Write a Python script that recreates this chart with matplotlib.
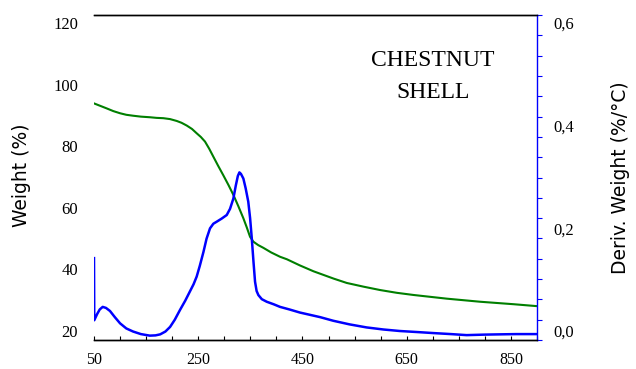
import matplotlib
matplotlib.use("Agg")
import matplotlib.pyplot as plt
from matplotlib.ticker import MultipleLocator, LinearLocator, FixedLocator, FixedFormatter

# ---- data ----
tg_temp = [50, 62, 74, 87, 100, 112, 125, 140, 157.5, 170, 183, 196, 208.7, 218, 228, 238,
           247, 255, 263, 271, 279, 288, 298, 308, 317.4, 327, 336.6, 343, 349.4, 355.8,
           365, 375, 390, 407, 420, 445, 471, 484, 510, 535, 567, 599, 631, 663, 695, 727,
           759, 791, 823, 855, 898]
tg_weight = [93.9, 93.1, 92.3, 91.4, 90.7, 90.2, 89.9, 89.6, 89.4, 89.2, 89.1, 88.8, 88.2,
             87.6, 86.7, 85.6, 84.2, 83.0, 81.5, 79.2, 76.6, 73.7, 70.6, 67.4, 64.2, 60.5,
             56.6, 53.7, 50.6, 49.0, 47.9, 47.0, 45.5, 44.1, 43.3, 41.3, 39.4, 38.6, 37.0,
             35.6, 34.4, 33.3, 32.4, 31.7, 31.1, 30.5, 30.0, 29.5, 29.1, 28.7, 28.1]

dtg_temp = [50, 50.5, 56, 61, 66.7, 73, 80.7, 90, 100, 112, 125, 140, 157, 168, 177, 187,
            196, 205, 215, 225, 234, 241, 247, 253, 260, 266, 272.6, 279, 285.5, 295, 304.7,
            311, 317.4, 322, 326, 329, 332, 336.6, 341, 346, 349.5, 352.7, 356, 359, 362,
            365.4, 372, 381.5, 395, 407, 425, 445, 484, 509, 540, 573, 605, 637, 670, 701,
            735, 765, 800, 829, 860, 898]
dtg_deriv = [0.142, 0.021, 0.033, 0.042, 0.047, 0.045, 0.039, 0.027, 0.015, 0.005, -0.001,
             -0.006, -0.009, -0.0085, -0.0065, -0.001, 0.008, 0.022, 0.041, 0.059, 0.077,
             0.091, 0.106, 0.127, 0.154, 0.180, 0.200, 0.209, 0.213, 0.219, 0.226, 0.238,
             0.258, 0.283, 0.302, 0.309, 0.306, 0.297, 0.278, 0.252, 0.220, 0.181, 0.135,
             0.096, 0.078, 0.070, 0.062, 0.057, 0.052, 0.047, 0.042, 0.036, 0.027, 0.020,
             0.013, 0.007, 0.003, 0.000, -0.002, -0.004, -0.006, -0.008, -0.007, -0.0065,
             -0.006, -0.006]

x_ticks = [50, 250, 450, 650, 850]
left_ticks = [20, 40, 60, 80, 100, 120]
right_ticks = [0.0, 0.2, 0.4, 0.6]
right_tick_labels = ["0,0", "0,2", "0,4", "0,6"]
sample_name = ["CHESTNUT", "SHELL"]

SERIF = "Liberation Serif"
SANS = "DejaVu Sans"

fig = plt.figure(figsize=(6.36, 3.69), dpi=100)
ax = fig.add_axes([94 / 636, 29 / 369, 443 / 636, 325 / 369])
ax2 = ax.twinx()

ax.plot(tg_temp, tg_weight, color="#007f00", lw=1.5, zorder=3)
ax2.plot(dtg_temp, dtg_deriv, color="#0000ff", lw=1.8, zorder=3)

ax.set_xlim(50, 900)
ax.set_ylim(17.08, 122.6)
ax2.set_ylim(-0.0175, 0.6156)

# spines
ax.spines["left"].set_visible(False)
ax2.spines["left"].set_visible(False)
ax.spines["right"].set_visible(False)
ax2.spines["right"].set_color("#0000ff")
ax2.spines["right"].set_linewidth(1.0)
for a in (ax, ax2):
    a.spines["top"].set_color("black")
    a.spines["bottom"].set_color("black")
    a.spines["top"].set_linewidth(1.0)
    a.spines["bottom"].set_linewidth(1.0)

# x ticks
ax.xaxis.set_major_locator(FixedLocator(x_ticks))
ax.xaxis.set_minor_locator(MultipleLocator(50))
ax.tick_params(axis="x", which="both", direction="in", length=3, width=0.8,
               color="black", top=False, pad=8.5)
for lab in ax.get_xticklabels():
    lab.set_fontfamily(SERIF)
    lab.set_fontsize(11.5)

# left y ticks
ax.set_yticks(left_ticks)
ax.tick_params(axis="y", which="both", length=0, pad=11.5, left=True, right=False)
for lab in ax.get_yticklabels():
    lab.set_fontfamily(SERIF)
    lab.set_fontsize(12)

# right y ticks
ax2.yaxis.set_major_locator(FixedLocator(right_ticks))
ax2.yaxis.set_major_formatter(FixedFormatter(right_tick_labels))
ax2.yaxis.set_minor_locator(LinearLocator(17))
ax2.tick_params(axis="y", which="major", length=0, pad=12)
ax2.tick_params(axis="y", which="minor", length=3.5, width=0.8, color="#0000ff",
                direction="out")
for lab in ax2.get_yticklabels():
    lab.set_fontfamily(SERIF)
    lab.set_fontsize(12)

# axis labels
fig.text(22 / 636, 1 - 175 / 369, "Weight (%)", rotation=90, ha="center", va="center",
         fontsize=13.5, family=SANS)
fig.text(621 / 636, 1 - 178 / 369, "Deriv. Weight (%/°C)", rotation=90, ha="center",
         va="center", fontsize=13.5, family=SANS)

# sample name
ax.text(0.765, 0.860, sample_name[0], transform=ax.transAxes, ha="center", va="center",
        fontsize=17, family=SERIF)
ax.text(0.765, 0.763, sample_name[1], transform=ax.transAxes, ha="center", va="center",
        fontsize=17, family=SERIF)

fig.savefig("out.png", dpi=100)
